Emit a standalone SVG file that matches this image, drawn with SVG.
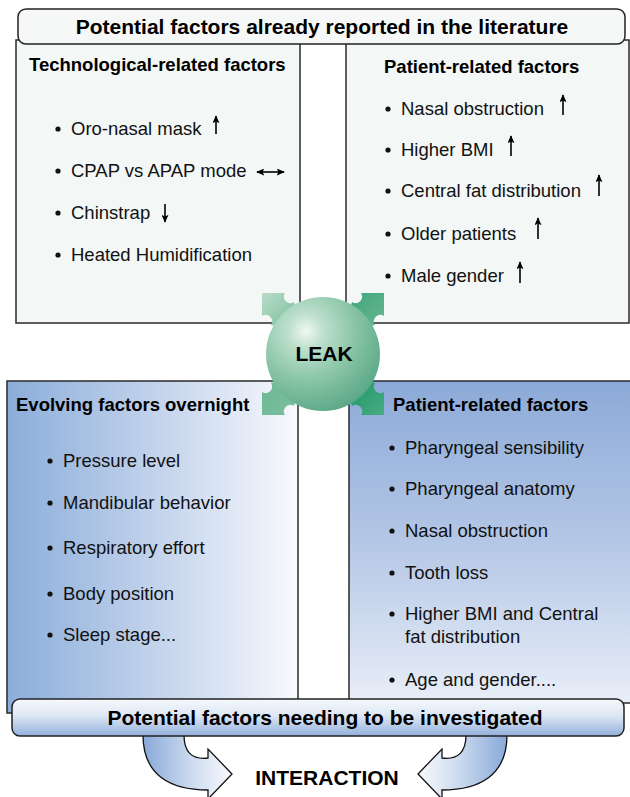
<svg xmlns="http://www.w3.org/2000/svg" width="630" height="797" viewBox="0 0 630 797">
<defs>
<style>
.hdr{font-family:"Liberation Sans",Arial,sans-serif;font-weight:bold;font-size:18.5px;fill:#000}
.itm{font-family:"Liberation Sans",Arial,sans-serif;font-size:18.5px;fill:#111}
.big{font-family:"Liberation Sans",Arial,sans-serif;font-weight:bold;font-size:21px;fill:#000}
.box{stroke:#2a2a2a;stroke-width:1.5}
.ar{stroke:#000;stroke-width:1.6;fill:none;marker-end:url(#ah)}
.ar2{stroke:#000;stroke-width:1.6;fill:none;marker-end:url(#ah);marker-start:url(#ahs)}
.bul{fill:#111}
</style>
<marker id="ah" viewBox="0 0 10 10" refX="9" refY="5" markerWidth="8" markerHeight="7" orient="auto" markerUnits="userSpaceOnUse" preserveAspectRatio="none">
<path d="M0,0 L10,5 L0,10 L2,5 Z" fill="#000"/>
</marker>
<marker id="ahs" viewBox="0 0 10 10" refX="1" refY="5" markerWidth="8" markerHeight="7" orient="auto" markerUnits="userSpaceOnUse" preserveAspectRatio="none">
<path d="M10,0 L0,5 L10,10 L8,5 Z" fill="#000"/>
</marker>
<linearGradient id="gBL" x1="0" y1="0" x2="1" y2="0">
<stop offset="0" stop-color="#8badda"/><stop offset="0.5" stop-color="#c1d2eb"/><stop offset="1" stop-color="#f8f9fd"/>
</linearGradient>
<linearGradient id="gBR" x1="0" y1="0" x2="0" y2="1">
<stop offset="0" stop-color="#8caad8"/><stop offset="0.5" stop-color="#b4c7e6"/><stop offset="1" stop-color="#e9eef8"/>
</linearGradient>
<linearGradient id="gBar" x1="0" y1="0" x2="0" y2="1">
<stop offset="0" stop-color="#f6f8fc"/><stop offset="0.45" stop-color="#dde7f4"/><stop offset="1" stop-color="#92b0db"/>
</linearGradient>
<linearGradient id="gArr" x1="0" y1="0" x2="1" y2="0">
<stop offset="0" stop-color="#88a9d8"/><stop offset="0.55" stop-color="#cddbef"/><stop offset="1" stop-color="#f8fafd"/>
</linearGradient>
<radialGradient id="gSph" cx="0.35" cy="0.3" r="0.75">
<stop offset="0" stop-color="#f0f8f3"/><stop offset="0.2" stop-color="#bfe0cd"/><stop offset="0.6" stop-color="#86c3a4"/><stop offset="1" stop-color="#5aa886"/>
</radialGradient>
<linearGradient id="gTL" x1="0" y1="0" x2="1" y2="1">
<stop offset="0" stop-color="#b8dcc8"/><stop offset="1" stop-color="#6cb893"/>
</linearGradient>
<linearGradient id="gTR" x1="1" y1="0" x2="0" y2="1">
<stop offset="0" stop-color="#3aa479"/><stop offset="1" stop-color="#6cb893"/>
</linearGradient>
<linearGradient id="gBLt" x1="0" y1="1" x2="1" y2="0">
<stop offset="0" stop-color="#6ab893"/><stop offset="1" stop-color="#7cbf9e"/>
</linearGradient>
<linearGradient id="gBRt" x1="1" y1="1" x2="0" y2="0">
<stop offset="0" stop-color="#129466"/><stop offset="1" stop-color="#4aab80"/>
</linearGradient>
<path id="tab" d="M-61,-61 L-38,-61 A6.5,6.5 0 0,0 -29,-52 L-20,-20 L-52,-29 A6.5,6.5 0 0,0 -61,-38 Z"/>
</defs>

<rect width="630" height="797" fill="#fff"/>

<g id="tech-factors">
<rect class="box" x="16" y="40" width="284" height="283" fill="#f3f7f5"/>
<text class="hdr" x="29" y="71">Technological-related factors</text>
<circle class="bul" cx="58" cy="129" r="2.6"/><text class="itm" x="71" y="135">Oro-nasal mask</text>
<path class="ar" d="M216,134 V116"/>
<circle class="bul" cx="58" cy="171" r="2.6"/><text class="itm" x="71" y="177">CPAP vs APAP mode</text>
<path class="ar2" d="M257,172 H284"/>
<circle class="bul" cx="58" cy="213" r="2.6"/><text class="itm" x="71" y="219">Chinstrap</text>
<path class="ar" d="M165,204 V222"/>
<circle class="bul" cx="58" cy="255" r="2.6"/><text class="itm" x="71" y="261">Heated Humidification</text>
</g>

<g id="patient-factors-known">
<rect class="box" x="346" y="40" width="283" height="283" fill="#f3f7f5"/>
<text class="hdr" x="384" y="73">Patient-related factors</text>
<circle class="bul" cx="388" cy="109" r="2.6"/><text class="itm" x="401" y="115">Nasal obstruction</text>
<path class="ar" d="M563,115 V95"/>
<circle class="bul" cx="388" cy="150" r="2.6"/><text class="itm" x="401" y="156">Higher BMI</text>
<path class="ar" d="M511,156 V136"/>
<circle class="bul" cx="388" cy="191" r="2.6"/><text class="itm" x="401" y="197">Central fat distribution</text>
<path class="ar" d="M599,196 V175"/>
<circle class="bul" cx="388" cy="234" r="2.6"/><text class="itm" x="401" y="240">Older patients</text>
<path class="ar" d="M538,239 V218"/>
<circle class="bul" cx="388" cy="276" r="2.6"/><text class="itm" x="401" y="282">Male gender</text>
<path class="ar" d="M520,283 V262"/>
</g>

<g id="title-top">
<rect x="18" y="9" width="607" height="35" rx="8" fill="#f5f8f6" stroke="#222" stroke-width="1.5"/>
<text class="big" x="322" y="34" text-anchor="middle">Potential factors already reported in the literature</text>
</g>

<g id="evolving-factors">
<rect class="box" x="7" y="381" width="291" height="332" fill="url(#gBL)"/>
<text class="hdr" x="16" y="411">Evolving factors overnight</text>
<circle class="bul" cx="50" cy="461" r="2.6"/><text class="itm" x="63" y="467">Pressure level</text>
<circle class="bul" cx="50" cy="503" r="2.6"/><text class="itm" x="63" y="509">Mandibular behavior</text>
<circle class="bul" cx="50" cy="548" r="2.6"/><text class="itm" x="63" y="554">Respiratory effort</text>
<circle class="bul" cx="50" cy="594" r="2.6"/><text class="itm" x="63" y="600">Body position</text>
<circle class="bul" cx="50" cy="635" r="2.6"/><text class="itm" x="63" y="641">Sleep stage...</text>
</g>

<g id="patient-factors-new">
<rect class="box" x="349" y="381" width="282" height="322" fill="url(#gBR)"/>
<text class="hdr" x="393" y="411">Patient-related factors</text>
<circle class="bul" cx="392" cy="448" r="2.6"/><text class="itm" x="405" y="454">Pharyngeal sensibility</text>
<circle class="bul" cx="392" cy="489" r="2.6"/><text class="itm" x="405" y="495">Pharyngeal anatomy</text>
<circle class="bul" cx="392" cy="531" r="2.6"/><text class="itm" x="405" y="537">Nasal obstruction</text>
<circle class="bul" cx="392" cy="573" r="2.6"/><text class="itm" x="405" y="579">Tooth loss</text>
<circle class="bul" cx="392" cy="614" r="2.6"/><text class="itm" x="405" y="620">Higher BMI and Central</text>
<text class="itm" x="405" y="643">fat distribution</text>
<circle class="bul" cx="392" cy="680" r="2.6"/><text class="itm" x="405" y="686">Age and gender....</text>
</g>

<g id="leak">
<use href="#tab" transform="translate(323,354)" fill="url(#gTL)"/>
<use href="#tab" transform="translate(323,354) scale(-1,1)" fill="url(#gTR)"/>
<use href="#tab" transform="translate(323,354) scale(1,-1)" fill="url(#gBLt)"/>
<use href="#tab" transform="translate(323,354) scale(-1,-1)" fill="url(#gBRt)"/>
<circle cx="323" cy="354" r="57" fill="url(#gSph)"/>
<text class="big" x="324" y="361" text-anchor="middle">LEAK</text>
</g>

<g id="connectors">
<path d="M143,735 C143,775 170,790 208,790 L208,799 L232,774 L208,749 L208,758 C192,760 184,752 184,735 Z" fill="url(#gArr)" stroke="#111" stroke-width="1.3"/>
<path d="M143,735 C143,775 170,790 208,790 L208,799 L232,774 L208,749 L208,758 C192,760 184,752 184,735 Z" transform="translate(650,0) scale(-1,1)" fill="url(#gArr)" stroke="#111" stroke-width="1.3"/>
</g>

<g id="title-bottom">
<rect x="12" y="699" width="612" height="37" rx="8" fill="url(#gBar)" stroke="#222" stroke-width="1.5"/>
<text class="big" x="325" y="725" text-anchor="middle">Potential factors needing to be investigated</text>
</g>

<g id="interaction">
<text class="big" x="327" y="785" text-anchor="middle">INTERACTION</text>
</g>
</svg>
